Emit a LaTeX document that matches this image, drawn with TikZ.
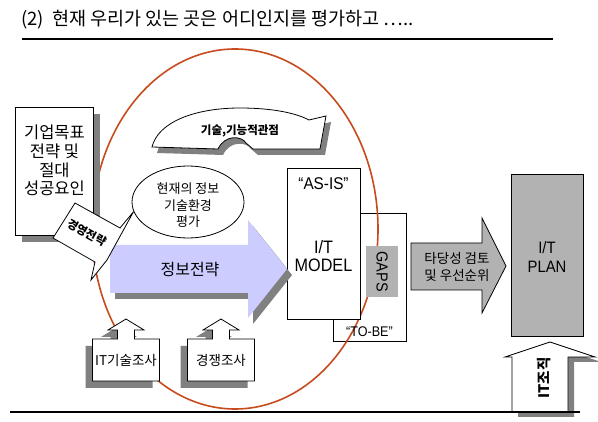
\documentclass[tikz,border=0pt]{standalone}
\usepackage{fontspec}
\setmainfont{Noto Sans CJK KR}
\newfontfamily\lat[FakeStretch=0.9]{Liberation Sans}
\usetikzlibrary{shapes.geometric}
\definecolor{shgray}{RGB}{128,128,128}
\definecolor{boxgray}{RGB}{178,178,178}
\definecolor{lav}{RGB}{204,204,255}
\definecolor{ored}{RGB}{200,75,30}
\newcommand\fsz[2]{\fontsize{#1}{#2}\selectfont}
\tikzset{
  box/.style={draw=black, line width=0.8, fill=white, inner sep=0, anchor=north west},
  shbox/.style={fill=shgray, inner sep=0, anchor=north west},
  txt/.style={inner sep=0, align=center},
  upbox/.pic={
    \fill[shgray, shift={(-7,7)}] (-33.5,20) -- (-8.5,20) -- (-8.5,11) -- (-18,11) -- (0,0) -- (18,11) -- (8.5,11) -- (8.5,20) -- (33.5,20) -- (33.5,62) -- (-33.5,62) -- cycle;
    \draw[fill=white, line width=0.8] (-33.5,20) -- (-8.5,20) -- (-8.5,11) -- (-18,11) -- (0,0) -- (18,11) -- (8.5,11) -- (8.5,20) -- (33.5,20) -- (33.5,62) -- (-33.5,62) -- cycle;
  }
}
\begin{document}
\begin{tikzpicture}[x=1pt,y=-1pt]
\useasboundingbox (0,0) rectangle (598,422);
\fill[white] (0,0) rectangle (598,422);

% title
\node[txt, anchor=west, font=\fsz{18.5}{21}] (title) at (21,20) {(2)\ \ 현재 우리가 있는 곳은 어디인지를 평가하고 …..};
\coordinate (tl) at (22,39); \coordinate (tr) at (553,39);
\draw[line width=2] (tl) -- (tr);

% TO-BE box and ellipse
\node[box, minimum width=73, minimum height=128] (tobe) at (333,213) {};
\draw[ored, line width=1.6] (235,229) ellipse [x radius=143, y radius=180];

% GAPS
\node[fill=boxgray, inner sep=0, minimum width=32, minimum height=51, anchor=north west] (gaps) at (366,246) {};
\node[txt, rotate=-90, font=\lat\fsz{16}{18}] (gapst) at (gaps.center) {GAPS};

% AS-IS box
\node[box, minimum width=73, minimum height=151] (asis) at (287,168) {};
\node[txt, font=\lat\fsz{17}{18}] (asist) at (323.5,184) {“AS-IS”};
\node[txt, font=\lat\fsz{18}{18.5}] (model) at (323.5,256) {I/T\\MODEL};
\node[txt, font=\lat\fsz{14}{16}] (tobet) at (369.5,332) {“TO-BE”};

% blue arrow
\fill[shgray, shift={(5,6)}] (110,245) -- (248,245) -- (248,220) -- (287,269) -- (248,318) -- (248,293) -- (110,293) -- cycle;
\fill[lav] (110,245) -- (248,245) -- (248,220) -- (287,269) -- (248,318) -- (248,293) -- (110,293) -- cycle;
\node[txt, font=\fsz{16}{18}] (info) at (190,270) {정보전략};

% left box
\node[shbox, minimum width=78, minimum height=128] (goalsh) at (22,114) {};
\node[box, minimum width=78, minimum height=128] (goal) at (15,107) {};
\node[txt, font=\fsz{16.5}{18.7}] (goalt) at (54.5,160.5) {기업목표\\전략 및\\절대\hspace*{11pt}\\성공요인};

% curved arrow
\fill[shgray, shift={(5,6)}] (152,147) .. controls (158,122) and (195,108) .. (240,108) .. controls (272,108) and (296,113) .. (309,120) -- (326,116) -- (320,149) -- (253,149) -- (246,143) .. controls (242,136) and (225,134) .. (218,149) -- cycle;
\draw[fill=white, line width=0.8] (152,147) .. controls (158,122) and (195,108) .. (240,108) .. controls (272,108) and (296,113) .. (309,120) -- (326,116) -- (320,149) -- (253,149) -- (246,143) .. controls (242,136) and (225,134) .. (218,149) -- cycle;
\node[txt, font=\bfseries\fsz{11.5}{13}] (tech) at (240,131) {기술,기능적관점};

% current-state ellipse
\node[draw, fill=white, ellipse, line width=0.8, minimum width=112, minimum height=72, inner sep=0] (cur) at (188,202) {};
\node[txt, font=\fsz{13}{16.5}] (curt) at (188,205.5) {현재의 정보\\기술환경\\평가};

% callout
\draw[fill=white, line width=0.8] (75,203) -- (120,228) -- (cur.190) -- (107,260) -- (91,280) -- (95,262) -- (53,238) -- cycle;
\node[txt, rotate=-29, font=\bfseries\fsz{11.5}{13}] (strat) at (87,233) {경영전략};

% survey callouts
\pic at (126,319) {upbox};
\node[txt, font=\fsz{13.5}{15}] (itsurvey) at (126,360) {IT기술조사};
\pic at (221,319) {upbox};
\node[txt, font=\fsz{13.5}{15}] (compsurvey) at (221,360) {경쟁조사};

% gray arrow
\draw[fill=boxgray, line width=0.8] (411,243) -- (482,243) -- (482,218) -- (506,266) -- (482,313) -- (482,290) -- (411,290) -- cycle;
\node[txt, font=\fsz{13.5}{17}] (valid) at (457,266.5) {타당성 검토\\및 우선순위};

% I/T PLAN
\node[box, fill=boxgray, minimum width=72, minimum height=162] (plan) at (511,174) {};
\node[txt, font=\lat\fsz{16.5}{19}] (plant) at (547,257.5) {I/T\\PLAN};

% IT org arrow
\fill[shgray, shift={(6,5)}] (550,342) -- (595,357) -- (568,357) -- (568,412) -- (512,412) -- (512,357) -- (505,357) -- cycle;
\draw[fill=white, line width=0.8] (550,342) -- (595,357) -- (568,357) -- (568,412) -- (512,412) -- (512,357) -- (505,357) -- cycle;
\node[txt, rotate=90, font=\bfseries\fsz{14.5}{16}] (itorg) at (544,378) {IT조직};

% bottom line
\coordinate (bl) at (10,412); \coordinate (br) at (580,412);
\draw[line width=1.5] (bl) -- (br);
\end{tikzpicture}
\end{document}
